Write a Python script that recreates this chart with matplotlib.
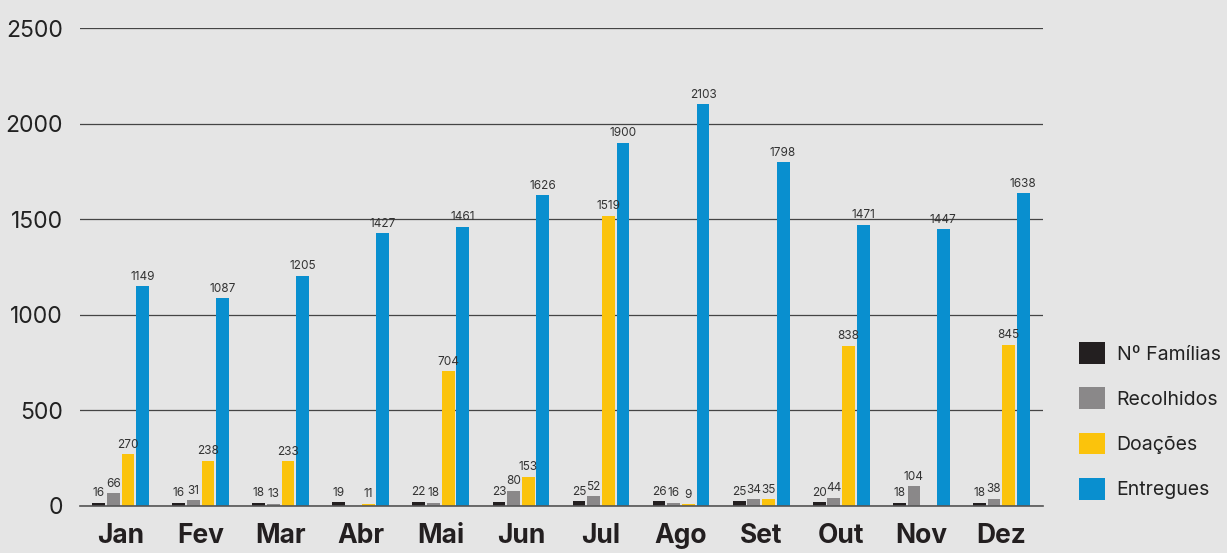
import numpy as np
import matplotlib.pyplot as plt

plt.rcParams['font.family'] = ['Inter', 'DejaVu Sans']

meses = ['Jan', 'Fev', 'Mar', 'Abr', 'Mai', 'Jun', 'Jul', 'Ago', 'Set', 'Out', 'Nov', 'Dez']
familias = [16, 16, 18, 19, 22, 23, 25, 26, 25, 20, 18, 18]
recolhidos = [66, 31, 13, 0, 18, 80, 52, 16, 34, 44, 104, 38]
doacoes = [270, 238, 233, 11, 704, 153, 1519, 9, 35, 838, 0, 845]
entregues = [1149, 1087, 1205, 1427, 1461, 1626, 1900, 2103, 1798, 1471, 1447, 1638]

series = [
    ('Nº Famílias', familias, '#231f20'),
    ('Recolhidos', recolhidos, '#8a8889'),
    ('Doações', doacoes, '#fbc30c'),
    ('Entregues', entregues, '#098fcf'),
]

bg = '#e5e5e5'
fig = plt.figure(figsize=(12.27, 5.53), dpi=100, facecolor=bg)
ax = fig.add_axes([0.065, 0.085, 0.785, 0.864])
ax.set_facecolor(bg)

x = np.arange(len(meses))
w = 0.16
step = 0.183
for i, (nome, vals, cor) in enumerate(series):
    pos = x + (i - 1.5) * step
    ax.bar(pos, vals, width=w, color=cor, label=nome, zorder=3)
    for p, v in zip(pos, vals):
        if v > 0:
            ax.text(p, v + 18, str(v), ha='center', va='bottom',
                    fontsize=8.5, color='#333333', zorder=4)

ax.set_ylim(0, 2500)
ax.set_xlim(-0.51, 11.52)
ax.set_yticks([0, 500, 1000, 1500, 2000, 2500])
ax.yaxis.grid(True, color='#444444', linewidth=0.9, zorder=1)
ax.tick_params(axis='y', length=0, pad=12, labelsize=16.5, labelcolor='#222222')
ax.set_xticks(x)
ax.set_xticklabels(meses, fontsize=19, fontweight='bold', color='#231f20')
ax.tick_params(axis='x', length=0, pad=12)
for s in ['top', 'right', 'left']:
    ax.spines[s].set_visible(False)
ax.spines['bottom'].set_color('#555555')
ax.spines['bottom'].set_linewidth(1.2)
ax.spines['bottom'].set_zorder(5)

ax.legend(loc='center left', bbox_to_anchor=(1.029, 0.178), frameon=False,
          fontsize=14, handlelength=1.35, handleheight=1.35,
          labelspacing=1.2, handletextpad=0.6, borderaxespad=0,
          labelcolor='#222222')

fig.savefig('out.png', dpi=100, facecolor=bg)
